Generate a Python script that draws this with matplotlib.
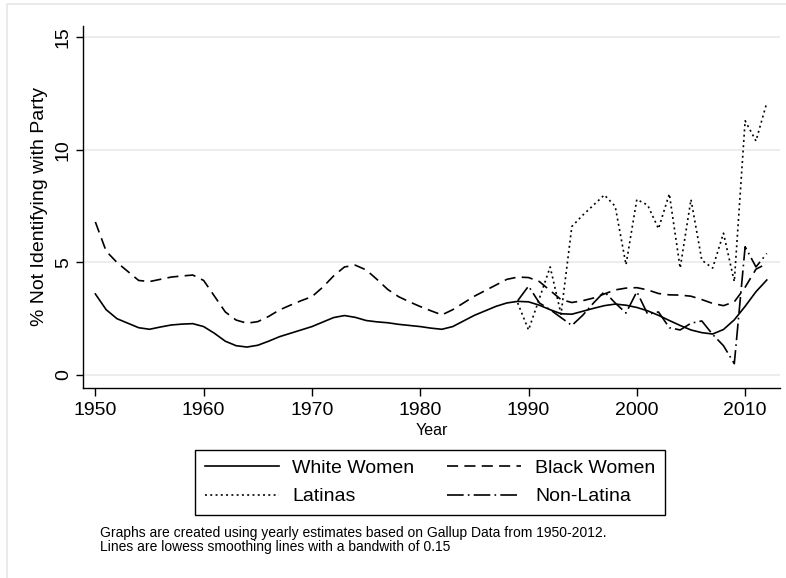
import numpy as np
import matplotlib
matplotlib.use("Agg")
import matplotlib.pyplot as plt
from matplotlib.patches import Rectangle

plt.rcParams['font.family'] = ['Liberation Sans', 'DejaVu Sans']
plt.rcParams['lines.scale_dashes'] = False

# yearly smoothed estimates
years_all = list(range(1950, 2013))
white_women = [3.6, 2.9, 2.5, 2.3, 2.1, 2.03, 2.13, 2.22, 2.26, 2.28,
               2.15, 1.85, 1.5, 1.3, 1.24, 1.32, 1.5, 1.7, 1.85, 2.0,
               2.15, 2.35, 2.55, 2.64, 2.56, 2.42, 2.36, 2.32, 2.25, 2.2,
               2.15, 2.08, 2.03, 2.15, 2.4, 2.65, 2.85, 3.05, 3.2, 3.27,
               3.25, 3.1, 2.9, 2.72, 2.7, 2.83, 2.96, 3.08, 3.15, 3.1,
               3.0, 2.85, 2.65, 2.42, 2.2, 2.0, 1.88, 1.82, 2.02, 2.45,
               3.05, 3.7, 4.22]
black_women = [6.8, 5.5, 5.0, 4.6, 4.2, 4.15, 4.25, 4.35, 4.4, 4.44,
               4.2, 3.5, 2.8, 2.44, 2.3, 2.37, 2.6, 2.89, 3.1, 3.3,
               3.48, 3.9, 4.4, 4.8, 4.88, 4.67, 4.25, 3.8, 3.48, 3.25,
               3.04, 2.85, 2.67, 2.9, 3.2, 3.5, 3.75, 4.0, 4.25, 4.35,
               4.33, 4.15, 3.75, 3.35, 3.22, 3.3, 3.42, 3.6, 3.78, 3.86,
               3.88, 3.78, 3.62, 3.56, 3.55, 3.5, 3.35, 3.18, 3.08, 3.25,
               3.9, 4.7, 4.95]

years_recent = list(range(1989, 2013))
latinas = [3.2, 2.0, 3.4, 4.8, 2.7, 6.6, 7.1, 7.55, 8.0, 7.5,
           4.9, 7.8, 7.55, 6.5, 8.05, 4.75, 7.8, 5.1, 4.75, 6.3,
           4.15, 11.3, 10.4, 12.1]
non_latina = [3.3, 3.95, 3.2, 2.9, 2.55, 2.2, 2.65, 3.2, 3.7, 3.2,
              2.75, 3.7, 2.7, 2.8, 2.1, 2.0, 2.3, 2.4, 1.8, 1.3,
              0.5, 5.7, 4.8, 5.4]

fig = plt.figure(figsize=(7.86, 5.78), dpi=100)
fig.patches.append(Rectangle((7 / 786, -0.05), 1.2, 1 - 4 / 578 + 0.05,
                             transform=fig.transFigure, fill=False,
                             edgecolor='#e6e6e6', linewidth=1.2))

ax = fig.add_axes([83 / 786, 1 - 388 / 578, 697 / 786, 362 / 578])

lw = 1.2
l_white, = ax.plot(years_all, white_women, color='black', lw=lw)
l_black, = ax.plot(years_all, black_women, color='black', lw=lw,
                   linestyle=(0, (8, 4.5)))
l_lat, = ax.plot(years_recent, latinas, color='black', lw=lw,
                 linestyle=(0, (1.4, 2.4)))
l_non, = ax.plot(years_recent, non_latina, color='black', lw=lw,
                 linestyle=(0, (12, 3, 1.2, 3)))

ax.set_xlim(1948.86, 2013.22)
ax.set_ylim(-0.58, 15.51)
ax.set_xticks(range(1950, 2011, 10))
ax.set_yticks([0, 5, 10, 15])
ax.grid(axis='y', color='#eaeaea', linewidth=1.2)
ax.set_axisbelow(True)

for s in ['top', 'right']:
    ax.spines[s].set_visible(False)
for s in ['left', 'bottom']:
    ax.spines[s].set_linewidth(1.0)

ax.tick_params(axis='x', labelsize=14, length=6, width=1.0, pad=4)
ax.tick_params(axis='y', labelsize=14, length=5, width=1.0, pad=3,
               labelrotation=90)
for lab in ax.get_yticklabels():
    lab.set_verticalalignment('center')

ax.set_xlabel('Year', fontsize=11.5, labelpad=3)
ax.set_ylabel('% Not Identifying with Party', fontsize=14, labelpad=5)

# row-major order like the original legend
leg = fig.legend([l_white, l_lat, l_black, l_non],
                 ['White Women', 'Latinas', 'Black Women', 'Non-Latina'],
                 ncol=2, loc='center',
                 bbox_to_anchor=(430 / 786, 1 - 482.5 / 578),
                 fontsize=14, handlelength=3.8, handletextpad=0.7,
                 columnspacing=1.7, labelspacing=0.55, borderpad=0.5,
                 fancybox=False, edgecolor='black', framealpha=1)
leg.get_frame().set_linewidth(1.0)

fig.text(100 / 786, 1 - 540 / 578,
         'Graphs are created using yearly estimates based on Gallup Data from 1950-2012.\n'
         'Lines are lowess smoothing lines with a bandwith of 0.15',
         fontsize=10, ha='left', va='center', linespacing=1.0)

fig.savefig('out.png', dpi=100)
